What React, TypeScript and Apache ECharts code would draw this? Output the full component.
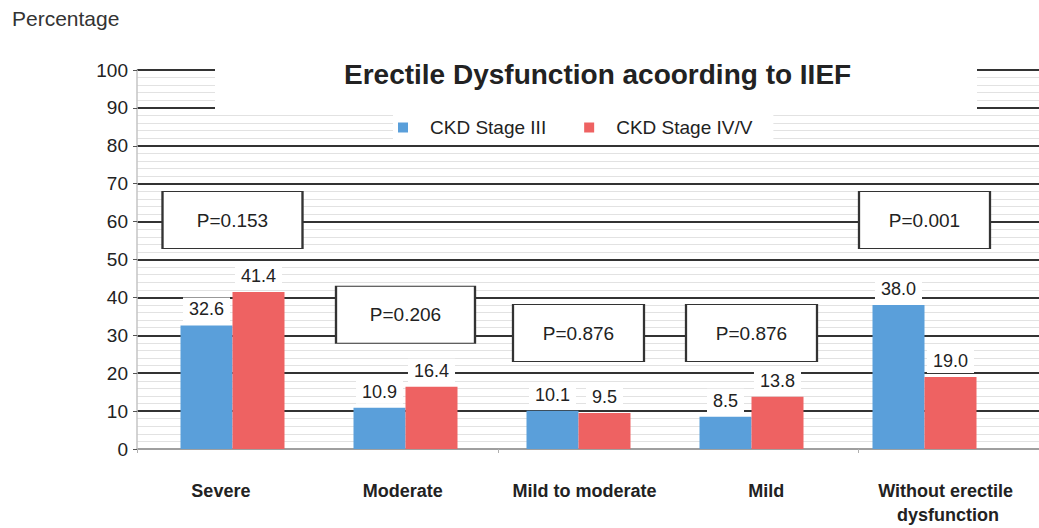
import React, { useEffect, useRef } from "react";
import * as echarts from "echarts";

const categories = ["Severe", "Moderate", "Mild to moderate", "Mild", "Without erectile dysfunction"];
const seriesNames = ["CKD Stage III", "CKD Stage IV/V"];
const stage3 = [32.6, 10.9, 10.1, 8.5, 38.0];
const stage45 = [41.4, 16.4, 9.5, 13.8, 19.0];
const pLabels = ["P=0.153", "P=0.206", "P=0.876", "P=0.876", "P=0.001"];
const pLevels = [60.4, 35.4, 30.6, 30.6, 60.4];
const pBoxWidths = [140, 139, 131, 131, 131];
const yTicks = [0, 10, 20, 30, 40, 50, 60, 70, 80, 90, 100];

const FONT = "'Liberation Sans', Arial, Helvetica, sans-serif";
const BLUE = "#5a9fda";
const RED = "#ee6262";
const BAR_WIDTH = 52;

export default function App() {
  const ref = useRef<HTMLDivElement>(null);
  useEffect(() => {
    if (!ref.current) return;
    const chart = echarts.init(ref.current, null, { renderer: "svg" });
    const top = 70;
    const bottom = 79;
    const yMin = yTicks[0];
    const yMax = yTicks[yTicks.length - 1];
    const labelStyle = {
      show: true,
      position: "top",
      distance: 4,
      backgroundColor: "#fff",
      padding: [3, 6],
      fontFamily: FONT,
      fontSize: 18,
      color: "#222",
      formatter: (p: any) => Number(p.value).toFixed(1),
    };
    const option: any = {
      animation: false,
      backgroundColor: "#fff",
      title: [
        {
          text: "Erectile Dysfunction acoording to IIEF",
          left: 344,
          top: 60,
          padding: 0,
          z: 10,
          textStyle: { fontFamily: FONT, fontWeight: "bold", fontSize: 28, color: "#222" },
        },
        {
          text: "Percentage",
          left: 12,
          top: 8,
          padding: 0,
          z: 10,
          textStyle: { fontFamily: FONT, fontWeight: "normal", fontSize: 21, color: "#333" },
        },
      ],
      graphic: [
        {
          type: "rect",
          z: 1,
          shape: { x: 215, y: 48, width: 762, height: 65 },
          style: { fill: "#fff" },
        },
      ],
      legend: {
        data: seriesNames,
        left: 393,
        top: 112,
        padding: [6, 21, 6, 5],
        backgroundColor: "#fff",
        itemWidth: 10,
        itemHeight: 10,
        itemGap: 38,
        icon: "rect",
        z: 10,
        textStyle: { fontFamily: FONT, fontSize: 19, color: "#222", padding: [0, 0, 0, 17] },
      },
      grid: [
        { left: 146, width: 865, top, bottom },
        { left: 137, right: 0, top, bottom },
        { left: 130, width: 921, top, bottom },
      ],
      xAxis: [
        {
          type: "category",
          gridIndex: 0,
          data: categories,
          axisLine: { show: false },
          axisTick: { show: false },
          axisLabel: { show: false },
        },
        {
          type: "category",
          gridIndex: 1,
          data: categories,
          axisLine: { show: true, lineStyle: { color: "#c4c4c4", width: 1.5 } },
          axisTick: { show: true, length: 4, lineStyle: { color: "#b0b0b0" } },
          axisLabel: { show: false },
        },
        {
          type: "category",
          gridIndex: 2,
          data: categories,
          axisLine: { show: false },
          axisTick: { show: false },
          axisLabel: {
            show: true,
            margin: 30,
            fontFamily: FONT,
            fontWeight: "bold",
            fontSize: 18,
            lineHeight: 24,
            color: "#222",
            width: 170,
            overflow: "break",
            interval: 0,
          },
        },
      ],
      yAxis: [
        { type: "value", gridIndex: 0, min: yMin, max: yMax, show: false },
        {
          type: "value",
          gridIndex: 1,
          min: yMin,
          max: yMax,
          interval: 10,
          axisLine: { show: true, lineStyle: { color: "#c4c4c4", width: 1.5 } },
          axisTick: { show: true, length: 4, lineStyle: { color: "#555" } },
          axisLabel: { fontFamily: FONT, fontSize: 19, color: "#222", margin: 9 },
          splitLine: { show: true, lineStyle: { color: "#333", width: 2 } },
          minorTick: { show: false, splitNumber: 5 },
          minorSplitLine: { show: true, lineStyle: { color: "#e2e2e2", width: 1 } },
        },
        { type: "value", gridIndex: 2, min: yMin, max: yMax, show: false },
      ],
      series: [
        {
          name: seriesNames[0],
          type: "bar",
          xAxisIndex: 0,
          yAxisIndex: 0,
          data: stage3,
          barWidth: BAR_WIDTH,
          barGap: "0%",
          itemStyle: { color: BLUE },
          label: labelStyle,
          z: 3,
          markPoint: {
            symbol: "rect",
            z: 5,
            silent: true,
            symbolOffset: [BAR_WIDTH / 2, 0],
            data: categories.map((c, i) => ({
              coord: [c, pLevels[i]],
              symbolSize: [pBoxWidths[i], 57],
              value: pLabels[i],
            })),
            itemStyle: { color: "#fff", borderColor: "#333", borderWidth: 1.5 },
            label: {
              show: true,
              position: "inside",
              formatter: (p: any) => p.value,
              fontFamily: FONT,
              fontSize: 19,
              color: "#222",
            },
          },
        },
        {
          name: seriesNames[1],
          type: "bar",
          xAxisIndex: 0,
          yAxisIndex: 0,
          data: stage45,
          barWidth: BAR_WIDTH,
          barGap: "0%",
          itemStyle: { color: RED },
          label: labelStyle,
          z: 3,
        },
      ],
    };
    chart.setOption(option);
    return () => chart.dispose();
  }, []);
  return <div ref={ref} style={{ width: 1039, height: 528, position: "absolute", left: 0, top: 0 }} />;
}
